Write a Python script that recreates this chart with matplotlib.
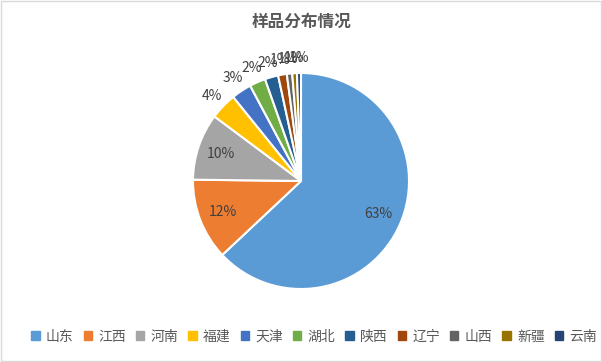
import matplotlib.pyplot as plt
from matplotlib.patches import Rectangle
import numpy as np

plt.rcParams['font.family'] = ['Noto Sans CJK SC', 'DejaVu Sans']

provinces = ["山东", "江西", "河南", "福建", "天津", "湖北", "陕西", "辽宁", "山西", "新疆", "云南"]
shares = [63.0, 12.2, 10.0, 4.0, 3.0, 2.4, 2.0, 1.3, 0.8, 0.7, 0.6]
colors = ["#5B9BD5", "#ED7D31", "#A5A5A5", "#FFC000", "#4472C4", "#70AD47",
          "#255E91", "#9E480E", "#636363", "#997300", "#264478"]
title = "样品分布情况"

fig = plt.figure(figsize=(6.02, 3.62), dpi=100)
fig.patches.append(Rectangle((0.001, 0.002), 0.997, 0.995, transform=fig.transFigure,
                             fill=False, edgecolor="#D9D9D9", linewidth=1))

ax = fig.add_axes([(301 - 108) / 602, (362 - 289) / 362, 216 / 602, 216 / 362])
wedges, texts, autotexts = ax.pie(shares, colors=colors, startangle=90, counterclock=False,
                                  autopct="%.0f%%", pctdistance=0.78,
                                  wedgeprops=dict(edgecolor="white", linewidth=1.5),
                                  textprops=dict(color="#404040", fontsize=10))
ax.set_xlim(-1, 1)
ax.set_ylim(-1, 1)
ax.set_aspect("equal")

# small slices get their labels outside
for w, t, v in zip(wedges, autotexts, shares):
    if v < 5:
        ang = np.deg2rad((w.theta1 + w.theta2) / 2)
        t.set_position((1.14 * np.cos(ang), 1.14 * np.sin(ang)))

fig.text(0.5, 0.94, title, ha="center", va="center", fontsize=12, fontweight="bold", color="#595959")

handles = [Rectangle((0, 0), 1, 1, color=c) for c in colors]
fig.legend(handles, provinces, loc="center", bbox_to_anchor=(0.522, 0.07), ncol=11,
           frameon=False, fontsize=10, handlelength=0.6, handleheight=0.6,
           handletextpad=0.45, columnspacing=0.72, labelcolor="#595959")

fig.savefig("out.png", dpi=100)
